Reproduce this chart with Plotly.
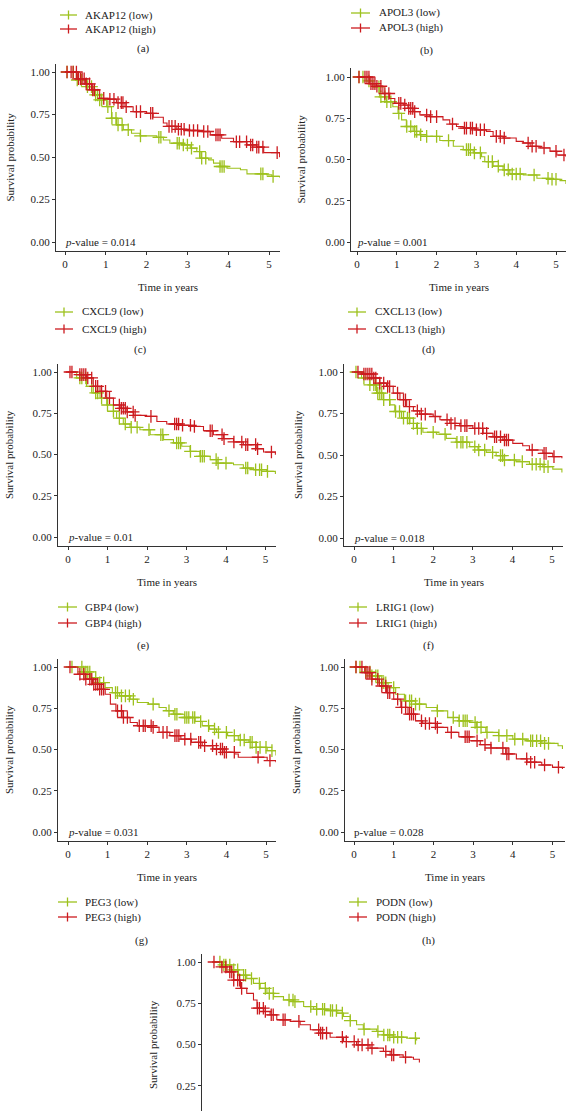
import plotly.graph_objects as go

W, H = 566, 1111
GREEN = '#9dc11d'
RED = '#cc1b1f'
AXC = '#333333'
FONT = 'Liberation Serif'

# ---------------- data (time in years, survival probability) ----------------
# (c) CXCL9
cxcl9_low_t = [0, 0.28, 0.52, 0.69, 0.85, 1.02, 1.14, 1.26, 1.43, 1.63, 1.84, 2.25, 2.41, 2.57, 2.86, 3.07, 3.23, 3.31, 3.52, 3.64, 3.80, 3.97, 4.30, 4.46, 4.95, 5.07, 5.26]
cxcl9_low_s = [1.0, 0.953, 0.914, 0.865, 0.836, 0.796, 0.728, 0.689, 0.660, 0.640, 0.624, 0.616, 0.600, 0.581, 0.571, 0.552, 0.532, 0.493, 0.483, 0.464, 0.444, 0.434, 0.425, 0.401, 0.395, 0.386, 0.380]
cxcl9_low_cens = [0.05, 0.2, 0.3, 0.4, 0.55, 0.65, 0.75, 0.8, 0.85, 0.9, 1.05, 1.15, 1.25, 1.3, 1.4, 1.55, 1.85, 2.3, 2.35, 2.75, 2.8, 2.9, 3.0, 3.1, 3.3, 3.35, 3.45, 3.8, 3.85, 3.9, 4.8, 4.85, 5.1]
cxcl9_high_t = [0, 0.30, 0.50, 0.65, 0.85, 1.05, 1.26, 1.47, 1.67, 2.00, 2.16, 2.41, 2.50, 2.74, 2.98, 3.30, 3.56, 3.84, 4.13, 4.46, 4.70, 4.87, 5.26]
cxcl9_high_s = [1.0, 0.960, 0.930, 0.895, 0.845, 0.840, 0.820, 0.796, 0.767, 0.757, 0.734, 0.700, 0.680, 0.663, 0.656, 0.650, 0.630, 0.610, 0.590, 0.571, 0.558, 0.526, 0.499]
cxcl9_high_cens = [0.05, 0.15, 0.2, 0.28, 0.33, 0.38, 0.42, 0.47, 0.52, 0.6, 0.68, 0.72, 0.95, 1.1, 1.2, 1.3, 1.38, 1.42, 1.5, 1.75, 1.85, 2.1, 2.15, 2.55, 2.62, 2.7, 2.78, 2.85, 2.92, 3.05, 3.15, 3.25, 3.4, 3.5, 3.7, 3.75, 3.8, 4.2, 4.28, 4.45, 4.55, 4.6, 4.7, 4.75, 4.85, 5.2]

# (d) CXCL13
cxcl13_low_t = [0, 0.23, 0.40, 0.57, 0.74, 0.90, 1.03, 1.12, 1.24, 1.41, 1.58, 1.75, 2.08, 2.42, 2.67, 2.92, 3.13, 3.21, 3.42, 3.67, 3.84, 4.18, 4.52, 4.85, 5.10, 5.25]
cxcl13_low_s = [1.0, 0.976, 0.940, 0.880, 0.850, 0.820, 0.780, 0.740, 0.700, 0.670, 0.650, 0.640, 0.615, 0.580, 0.560, 0.540, 0.517, 0.487, 0.460, 0.437, 0.412, 0.406, 0.386, 0.380, 0.372, 0.352]
cxcl13_low_cens = [0.05, 0.15, 0.3, 0.55, 0.6, 0.7, 0.75, 0.85, 1.05, 1.25, 1.35, 1.45, 1.5, 1.6, 1.75, 2.0, 2.3, 2.75, 2.8, 2.85, 2.95, 3.1, 3.3, 3.4, 3.55, 3.7, 3.8, 3.9, 4.0, 4.1, 4.45, 4.8, 4.9, 5.0]
cxcl13_high_t = [0, 0.32, 0.49, 0.65, 0.82, 0.95, 1.16, 1.28, 1.41, 1.58, 1.83, 2.16, 2.33, 2.50, 2.67, 3.00, 3.25, 3.42, 3.67, 4.00, 4.18, 4.35, 4.60, 4.85, 5.02, 5.25]
cxcl13_high_s = [1.0, 0.960, 0.944, 0.900, 0.870, 0.840, 0.830, 0.810, 0.790, 0.770, 0.760, 0.740, 0.715, 0.700, 0.690, 0.680, 0.670, 0.640, 0.630, 0.610, 0.600, 0.580, 0.570, 0.550, 0.527, 0.517]
cxcl13_high_cens = [0.05, 0.2, 0.25, 0.3, 0.35, 0.4, 0.45, 0.5, 0.6, 0.7, 0.8, 1.05, 1.1, 1.2, 1.3, 1.35, 1.4, 1.45, 1.75, 1.85, 2.0, 2.4, 2.7, 2.75, 2.85, 2.9, 3.0, 3.1, 3.2, 3.5, 3.6, 3.7, 4.3, 4.4, 4.5, 4.7, 5.0, 5.2]

# (e) GBP4
gbp4_low_t = [0, 0.22, 0.47, 0.64, 0.81, 0.98, 1.15, 1.23, 1.40, 1.57, 1.82, 2.08, 2.42, 2.67, 2.88, 3.09, 3.34, 3.60, 3.77, 4.19, 4.44, 4.70, 5.03, 5.25]
gbp4_low_s = [1.0, 0.964, 0.913, 0.873, 0.842, 0.800, 0.762, 0.720, 0.685, 0.665, 0.650, 0.620, 0.590, 0.570, 0.550, 0.519, 0.489, 0.469, 0.448, 0.438, 0.418, 0.408, 0.398, 0.382]
gbp4_low_cens = [0.3, 0.35, 0.45, 0.6, 0.7, 0.75, 0.85, 1.0, 1.15, 1.3, 1.45, 1.6, 1.75, 2.05, 2.35, 2.4, 2.75, 2.8, 2.85, 3.1, 3.35, 3.4, 3.45, 3.75, 3.8, 4.0, 4.5, 4.55, 4.75, 4.85, 4.9, 5.05]
gbp4_high_t = [0, 0.30, 0.47, 0.64, 0.81, 0.98, 1.15, 1.32, 1.49, 1.66, 1.99, 2.25, 2.50, 2.84, 3.18, 3.43, 3.68, 3.94, 4.19, 4.44, 4.78, 4.95, 5.25]
gbp4_high_s = [1.0, 0.984, 0.964, 0.913, 0.883, 0.842, 0.800, 0.780, 0.758, 0.737, 0.731, 0.700, 0.685, 0.677, 0.670, 0.644, 0.620, 0.596, 0.576, 0.560, 0.535, 0.515, 0.499]
gbp4_high_cens = [0.05, 0.1, 0.3, 0.35, 0.4, 0.45, 0.5, 0.6, 0.7, 0.75, 0.85, 0.95, 1.05, 1.3, 1.35, 1.4, 1.45, 1.5, 1.65, 1.7, 2.1, 2.7, 2.75, 2.8, 2.9, 3.1, 3.2, 3.6, 3.65, 3.9, 3.95, 4.2, 4.4, 4.5, 4.55, 4.75, 4.8, 5.15]

# (f) LRIG1
lrig1_low_t = [0, 0.19, 0.40, 0.57, 0.74, 0.91, 1.03, 1.20, 1.41, 1.58, 1.74, 2.08, 2.33, 2.58, 2.92, 3.13, 3.34, 3.59, 3.76, 4.09, 4.43, 4.77, 5.02, 5.25]
lrig1_low_s = [1.0, 0.964, 0.923, 0.873, 0.833, 0.802, 0.762, 0.722, 0.690, 0.660, 0.637, 0.625, 0.600, 0.577, 0.550, 0.530, 0.516, 0.496, 0.470, 0.460, 0.444, 0.430, 0.415, 0.395]
lrig1_low_cens = [0.05, 0.25, 0.4, 0.5, 0.55, 0.6, 0.65, 0.7, 0.75, 0.9, 1.05, 1.15, 1.25, 1.35, 1.4, 1.5, 1.6, 1.7, 2.0, 2.3, 2.6, 2.7, 2.75, 2.85, 3.05, 3.15, 3.3, 3.5, 3.7, 3.75, 3.8, 4.05, 4.25, 4.5, 4.6, 4.7, 4.8, 4.9]
lrig1_high_t = [0, 0.23, 0.49, 0.65, 0.82, 0.99, 1.16, 1.33, 1.50, 1.66, 2.00, 2.17, 2.42, 2.67, 3.00, 3.26, 3.51, 3.76, 4.01, 4.26, 4.43, 4.77, 5.02, 5.25]
lrig1_high_s = [1.0, 0.988, 0.964, 0.933, 0.913, 0.873, 0.833, 0.792, 0.766, 0.746, 0.732, 0.712, 0.690, 0.677, 0.660, 0.630, 0.610, 0.590, 0.570, 0.556, 0.530, 0.510, 0.490, 0.480]
lrig1_high_cens = [0.1, 0.25, 0.3, 0.35, 0.4, 0.45, 0.5, 0.55, 0.65, 0.75, 0.85, 0.9, 1.1, 1.25, 1.3, 1.4, 1.6, 1.7, 1.8, 2.05, 2.35, 2.45, 2.55, 2.7, 2.8, 2.85, 3.05, 3.15, 3.25, 3.35, 3.55, 3.6, 3.7, 3.8, 3.85, 3.9, 4.5, 4.8, 4.85, 5.05]

# (g) PEG3
peg3_low_t = [0, 0.39, 0.57, 0.75, 0.94, 1.12, 1.30, 1.57, 1.75, 2.03, 2.30, 2.48, 2.66, 2.94, 3.21, 3.39, 3.57, 3.75, 4.03, 4.30, 4.57, 4.75, 5.03, 5.25]
peg3_low_s = [1.0, 0.970, 0.936, 0.905, 0.875, 0.845, 0.825, 0.805, 0.785, 0.775, 0.755, 0.735, 0.714, 0.694, 0.670, 0.644, 0.624, 0.604, 0.584, 0.558, 0.543, 0.513, 0.493, 0.463]
peg3_low_cens = [0.1, 0.35, 0.4, 0.45, 0.5, 0.55, 0.7, 0.8, 0.9, 1.2, 1.25, 1.35, 1.45, 1.55, 1.65, 2.15, 2.55, 2.7, 2.75, 2.95, 3.0, 3.05, 3.15, 3.2, 3.35, 3.55, 3.7, 3.8, 4.0, 4.2, 4.35, 4.45, 4.6, 4.65, 4.75, 4.85, 5.0, 5.15]
peg3_high_t = [0, 0.25, 0.44, 0.62, 0.80, 0.94, 1.07, 1.21, 1.39, 1.57, 1.75, 2.12, 2.30, 2.57, 2.85, 3.12, 3.39, 3.66, 3.94, 4.21, 4.30, 5.03, 5.25]
peg3_high_s = [1.0, 0.956, 0.926, 0.895, 0.865, 0.835, 0.775, 0.734, 0.694, 0.664, 0.644, 0.634, 0.604, 0.584, 0.563, 0.543, 0.523, 0.503, 0.483, 0.473, 0.453, 0.433, 0.423]
peg3_high_cens = [0.05, 0.3, 0.4, 0.45, 0.55, 0.6, 0.65, 0.7, 0.75, 0.8, 0.85, 0.9, 1.25, 1.35, 1.4, 1.5, 1.8, 1.9, 1.95, 2.1, 2.15, 2.4, 2.5, 2.7, 2.75, 2.8, 2.95, 3.1, 3.3, 3.35, 3.45, 3.65, 3.75, 3.85, 3.9, 3.95, 4.0, 4.2, 4.8, 5.1]

# (h) PODN
podn_low_t = [0, 0.27, 0.45, 0.64, 0.86, 1.05, 1.27, 1.55, 1.82, 2.09, 2.36, 2.64, 2.91, 3.09, 3.32, 3.64, 4.00, 4.36, 4.73, 5.14, 5.25]
podn_low_s = [1.0, 0.970, 0.946, 0.905, 0.875, 0.835, 0.795, 0.775, 0.755, 0.734, 0.694, 0.674, 0.664, 0.634, 0.604, 0.584, 0.563, 0.553, 0.537, 0.523, 0.503]
podn_low_cens = [0.05, 0.15, 0.3, 0.4, 0.45, 0.55, 0.6, 0.7, 0.75, 0.8, 1.0, 1.3, 1.4, 1.45, 1.55, 1.65, 2.1, 2.5, 2.65, 2.75, 2.8, 2.85, 3.05, 3.1, 3.2, 3.35, 3.65, 3.85, 4.05, 4.25, 4.45, 4.5, 4.6, 4.7, 4.8, 4.9]
podn_high_t = [0, 0.27, 0.45, 0.64, 0.82, 1.00, 1.18, 1.36, 1.55, 1.73, 2.09, 2.36, 2.64, 2.91, 3.18, 3.45, 3.82, 4.09, 4.36, 4.73, 5.00, 5.25]
podn_high_s = [1.0, 0.966, 0.926, 0.885, 0.845, 0.805, 0.755, 0.714, 0.674, 0.658, 0.634, 0.604, 0.577, 0.553, 0.529, 0.509, 0.473, 0.443, 0.423, 0.406, 0.392, 0.382]
podn_high_cens = [0.05, 0.2, 0.3, 0.35, 0.4, 0.45, 0.6, 0.7, 0.8, 0.85, 0.9, 1.1, 1.2, 1.3, 1.4, 1.45, 1.5, 1.7, 1.8, 1.9, 2.05, 2.1, 2.45, 2.8, 2.85, 2.9, 3.1, 3.3, 3.45, 3.75, 3.85, 3.9, 4.35, 4.45, 4.55, 4.8, 5.15]

# (i) partially visible panel
i_low_t = [0, 0.29, 0.46, 0.67, 0.88, 1.05, 1.22, 1.39, 1.56, 1.81, 2.06, 2.32, 2.57, 2.91, 3.16, 3.33, 3.50, 3.66, 3.83, 4.17, 4.34, 4.59, 4.93, 5.18]
i_low_s = [1.0, 0.982, 0.952, 0.920, 0.900, 0.870, 0.840, 0.810, 0.790, 0.770, 0.760, 0.730, 0.714, 0.706, 0.690, 0.670, 0.645, 0.620, 0.593, 0.579, 0.558, 0.544, 0.538, 0.524]
i_low_cens = [0.2, 0.3, 0.35, 0.45, 0.55, 0.65, 0.8, 0.85, 1.0, 1.2, 1.35, 1.45, 1.55, 1.95, 2.05, 2.1, 2.5, 2.65, 2.8, 2.85, 3.0, 3.05, 3.15, 3.3, 3.5, 3.85, 4.2, 4.35, 4.45, 4.5, 4.6, 4.7, 4.8, 5.15]
i_high_t = [0, 0.25, 0.38, 0.55, 0.72, 0.88, 1.05, 1.14, 1.31, 1.47, 1.64, 1.98, 2.23, 2.49, 2.74, 2.99, 3.33, 3.66, 4.00, 4.34, 4.51, 4.84, 5.10, 5.25]
i_high_s = [1.0, 0.970, 0.940, 0.890, 0.840, 0.810, 0.770, 0.720, 0.700, 0.680, 0.650, 0.640, 0.620, 0.589, 0.569, 0.544, 0.518, 0.498, 0.478, 0.458, 0.437, 0.423, 0.411, 0.391]
i_high_cens = [0.05, 0.25, 0.35, 0.45, 0.5, 0.55, 0.65, 0.7, 0.75, 1.15, 1.2, 1.3, 1.35, 1.5, 1.55, 1.8, 1.85, 2.2, 2.7, 2.75, 2.8, 2.9, 3.3, 3.4, 3.6, 3.7, 3.8, 3.95, 4.05, 4.4, 4.55, 4.6, 4.9]

genes = ['AKAP12', 'APOL3', 'CXCL9', 'CXCL13', 'GBP4', 'LRIG1', 'PEG3', 'PODN']
pvalues = ['0.014', '0.001', '0.01', '0.018', '0.031', '0.028']
x_ticks = [0, 1, 2, 3, 4, 5]
y_ticks = [0, 0.25, 0.5, 0.75, 1.0]
y_tick_labels = ['0.00', '0.25', '0.50', '0.75', '1.00']

# ---------------- layout geometry (pixels) ----------------
# xl: y-axis line, x0: position of t=0, k: px per year, xr: right end,
# y1: S=1 px, y0: S=0 px, yb: x-axis line, yt: top of axis
panels = [
    dict(xl=56, x0=65, k=40.8, xr=280, y1=72, y0=242, yb=251, yt=64,
         low=(cxcl9_low_t, cxcl9_low_s, cxcl9_low_cens), high=(cxcl9_high_t, cxcl9_high_s, cxcl9_high_cens),
         p=pvalues[0], italic=True, ytx=9),
    dict(xl=351, x0=357, k=39.8, xr=566, y1=77, y0=242, yb=251, yt=68,
         low=(cxcl13_low_t, cxcl13_low_s, cxcl13_low_cens), high=(cxcl13_high_t, cxcl13_high_s, cxcl13_high_cens),
         p=pvalues[1], italic=True, ytx=300),
    dict(xl=58, x0=68, k=39.5, xr=276, y1=372, y0=537, yb=546, yt=364,
         low=(gbp4_low_t, gbp4_low_s, gbp4_low_cens), high=(gbp4_high_t, gbp4_high_s, gbp4_high_cens),
         p=pvalues[2], italic=True, ytx=9),
    dict(xl=344, x0=354, k=39.6, xr=563, y1=372, y0=538, yb=546, yt=364,
         low=(lrig1_low_t, lrig1_low_s, lrig1_low_cens), high=(lrig1_high_t, lrig1_high_s, lrig1_high_cens),
         p=pvalues[3], italic=True, ytx=298),
    dict(xl=58, x0=68, k=39.6, xr=276, y1=667, y0=832, yb=841, yt=659,
         low=(peg3_low_t, peg3_low_s, peg3_low_cens), high=(peg3_high_t, peg3_high_s, peg3_high_cens),
         p=pvalues[4], italic=True, ytx=9),
    dict(xl=345, x0=354, k=39.7, xr=565, y1=667, y0=832, yb=841, yt=659,
         low=(podn_low_t, podn_low_s, podn_low_cens), high=(podn_high_t, podn_high_s, podn_high_cens),
         p=pvalues[5], italic=False, ytx=296),
    dict(xl=202, x0=212, k=39.5, xr=420, y1=962, y0=1127, yb=1136, yt=954,
         low=(i_low_t, i_low_s, i_low_cens), high=(i_high_t, i_high_s, i_high_cens),
         p=None, italic=False, ytx=153),
]

# legend blocks: (gene, symbol_x_left, symbol_x_right, text_x, row1_y, row2_y, label, label_x, label_y)
legends = [
    (genes[0], 60, 77, 83, 15, 29, '(a)', 143, 49),
    (genes[1], 351, 370, 377, 13, 28, '(b)', 426, 50),
    (genes[2], 55, 73, 80, 312, 329, '(c)', 140, 349),
    (genes[3], 348, 366, 373, 312, 329, '(d)', 428, 349),
    (genes[4], 58, 77, 83, 607, 623, '(e)', 143, 645),
    (genes[5], 349, 367, 374, 607, 623, '(f)', 428, 645),
    (genes[6], 58, 77, 83, 902, 917, '(g)', 141, 940),
    (genes[7], 349, 367, 374, 902, 917, '(h)', 428, 940),
]


def px(x):
    return x / W


def py(y):
    return 1 - y / H


def step_value(ts, ss, t):
    v = ss[0]
    for ti, si in zip(ts, ss):
        if ti <= t:
            v = si
    return v


fig = go.Figure()
annotations = []
shapes = []
font = dict(family=FONT, size=11, color='#222222')

for idx, p in enumerate(panels, start=1):
    xa = 'x' if idx == 1 else f'x{idx}'
    ya = 'y' if idx == 1 else f'y{idx}'
    ppu = p['y0'] - p['y1']
    yb_eff = min(p['yb'], H)
    xrange = [(p['xl'] - p['x0']) / p['k'], (p['xr'] - p['x0']) / p['k']]
    yrange = [(p['y0'] - yb_eff) / ppu, (p['y0'] - p['yt']) / ppu]
    visible_x = p['yb'] <= H
    fig.update_layout(**{
        ('xaxis' if idx == 1 else f'xaxis{idx}'): dict(
            domain=[px(p['xl']), px(p['xr'])], range=xrange, anchor=ya,
            showline=visible_x, linecolor=AXC, linewidth=1.2, mirror=False,
            ticks='outside' if visible_x else '', ticklen=3, tickwidth=1, tickcolor=AXC,
            tickvals=x_ticks, showticklabels=visible_x, tickfont=font,
            showgrid=False, zeroline=False, fixedrange=True, automargin=False),
        ('yaxis' if idx == 1 else f'yaxis{idx}'): dict(
            domain=[py(yb_eff), py(p['yt'])], range=yrange, anchor=xa,
            showline=True, linecolor=AXC, linewidth=1.2,
            ticks='outside', ticklen=3, tickwidth=1, tickcolor=AXC,
            tickvals=y_ticks, ticktext=y_tick_labels, tickfont=font,
            showgrid=False, zeroline=False, fixedrange=True, automargin=False),
    })
    for key, color in (('low', GREEN), ('high', RED)):
        ts, ss, cens = p[key]
        fig.add_trace(go.Scatter(x=ts, y=ss, mode='lines', line=dict(color=color, width=1.1, shape='hv'),
                                 xaxis=xa, yaxis=ya, showlegend=False, hoverinfo='skip', cliponaxis=True))
        cy = [step_value(ts, ss, t) for t in cens]
        fig.add_trace(go.Scatter(x=cens, y=cy, mode='markers',
                                 marker=dict(symbol='cross-thin', size=9, line=dict(color=color, width=1.3)),
                                 xaxis=xa, yaxis=ya, showlegend=False, hoverinfo='skip', cliponaxis=True))
    # y title
    annotations.append(dict(x=px(p['ytx']), y=py((p['yt'] + p['yb']) / 2), xref='paper', yref='paper',
                            text='Survival probability', textangle=-90, showarrow=False,
                            xanchor='center', yanchor='middle', font=font))
    if visible_x:
        annotations.append(dict(x=px((p['xl'] + p['xr']) / 2), y=py(p['yb'] + 36), xref='paper', yref='paper',
                                text='Time in years', showarrow=False, xanchor='center', yanchor='middle', font=font))
    if p['p'] is not None:
        ptxt = ('<i>p</i>' if p['italic'] else 'p') + '-value = ' + p['p']
        annotations.append(dict(x=px(p['x0'] - 2), y=py(p['y0']), xref='paper', yref='paper', text=ptxt,
                                showarrow=False, xanchor='left', yanchor='middle', font=font))

# cut-off x titles of the top (hidden) panels: only their lowest pixels show
for cx in (167, 456):
    annotations.append(dict(x=px(cx), y=py(-6), xref='paper', yref='paper', text='Time in years',
                            showarrow=False, xanchor='center', yanchor='middle', font=font))

for gene, sx0, sx1, tx, r1, r2, lab, lx, ly in legends:
    for ry, color, suffix in ((r1, GREEN, '(low)'), (r2, RED, '(high)')):
        shapes.append(dict(type='line', xref='paper', yref='paper', x0=px(sx0), x1=px(sx1), y0=py(ry), y1=py(ry),
                           line=dict(color=color, width=1.3)))
        cxm = (sx0 + sx1) / 2
        shapes.append(dict(type='line', xref='paper', yref='paper', x0=px(cxm), x1=px(cxm), y0=py(ry - 4.5),
                           y1=py(ry + 4.5), line=dict(color=color, width=1.3)))
        annotations.append(dict(x=px(tx), y=py(ry), xref='paper', yref='paper', text=f'{gene} {suffix}',
                                showarrow=False, xanchor='left', yanchor='middle', font=font))
    annotations.append(dict(x=px(lx), y=py(ly), xref='paper', yref='paper', text=lab, showarrow=False,
                            xanchor='center', yanchor='middle', font=font))

fig.update_layout(width=W, height=H, autosize=False, margin=dict(l=0, r=0, t=0, b=0, pad=0),
                  paper_bgcolor='white', plot_bgcolor='white', showlegend=False,
                  annotations=annotations, shapes=shapes, font=font)

fig.write_html('out.html', config={'displayModeBar': False},
               post_script="document.body.style.margin='0px';document.body.style.padding='0px';")
